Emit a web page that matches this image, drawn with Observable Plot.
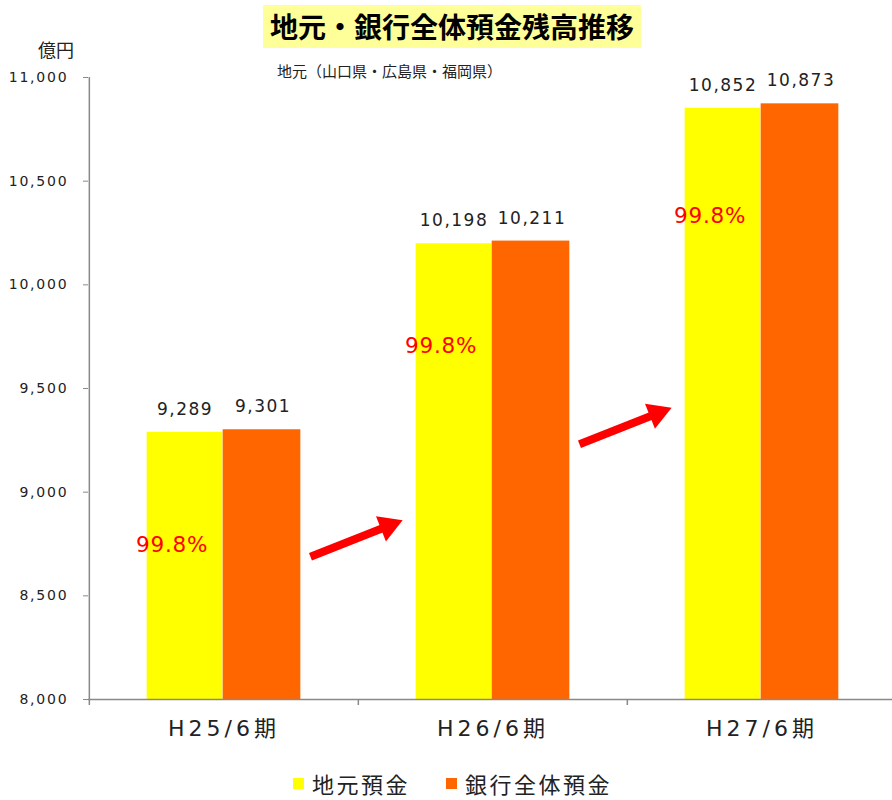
<!DOCTYPE html>
<html>
<head>
<meta charset="utf-8">
<script src="https://cdn.jsdelivr.net/npm/d3@7"></script>
<script src="https://cdn.jsdelivr.net/npm/@observablehq/plot@0.6"></script>
<style>
  body { margin: 0; background: #fff; }
  #wrap { position: relative; width: 892px; height: 800px; font-family: "Noto Sans CJK JP", sans-serif; background: #fff; }
  #chart { position: absolute; left: 0; top: 0; }
  .ovl { position: absolute; z-index: 2; white-space: nowrap; }
  #title { left: 263px; top: 5px; width: 378px; height: 43px; line-height: 43px; background: #ffff99; text-align: center; font-weight: bold; font-size: 28px; color: #000; }
  #subtitle { left: 277px; top: 63px; font-size: 15px; line-height: 16px; color: #222; }
  #unit { left: 38px; top: 39px; font-size: 18px; line-height: 20px; color: #222; }
  .lg-sw { position: absolute; width: 11px; height: 11px; top: 778px; z-index: 2; }
  .lg-tx { position: absolute; top: 772px; font-size: 22px; line-height: 22px; letter-spacing: 2.5px; color: #222; z-index: 2; white-space: nowrap; }
  g[aria-label="y-axis tick label"] text { letter-spacing: 1.8px; }
  g[aria-label="x-axis tick label"] text { letter-spacing: 4px; }
  g[font-size="17"] text { letter-spacing: 1.5px; }
  g[font-size="21.5"] text { letter-spacing: 0.8px; }
</style>
</head>
<body>
<div id="wrap">
  <div id="chart"></div>
  <div class="ovl" id="title"></div>
  <div class="ovl" id="subtitle"></div>
  <div class="ovl" id="unit"></div>
</div>
<script>
// ---- data ----
const titleText = "地元・銀行全体預金残高推移";
const subtitleText = "地元（山口県・広島県・福岡県）";
const unitText = "億円";
const categories = ["H25/6期", "H26/6期", "H27/6期"];
const seriesNames = ["地元預金", "銀行全体預金"];
const seriesColors = ["#ffff00", "#ff6600"];
const localDeposits = [9289, 10198, 10852];
const bankDeposits = [9301, 10211, 10873];
const ratioLabels = ["99.8%", "99.8%", "99.8%"];
const ratioLabelY = [8743, 9703, 10330];
const yTicks = [8000, 8500, 9000, 9500, 10000, 10500, 11000];
const arrowFromY = [8523, 9066];
const arrowToY = [9037, 9580];

// ---- layout ----
const W = 892, H = 765, mL = 88, mR = -4, mT = 77, mB = 66;
const step = (W - mL - mR) / categories.length;
const barW = 77;
const axisColor = "#898989";
const fmt = d3.format(",");

document.getElementById("title").textContent = titleText;
document.getElementById("subtitle").textContent = subtitleText;
document.getElementById("unit").textContent = unitText;

const rows = categories.map((c, i) => ({
  category: c, local: localDeposits[i], bank: bankDeposits[i],
  ratio: ratioLabels[i], ratioY: ratioLabelY[i]
}));
const arrows = arrowFromY.map((y, i) => ({
  from: categories[i], to: categories[i + 1], y1: y, y2: arrowToY[i]
}));

const chart = Plot.plot({
  width: W, height: H,
  marginLeft: mL, marginRight: mR, marginTop: mT, marginBottom: mB,
  style: { background: "transparent", fontFamily: "DejaVu Sans, Noto Sans CJK JP, sans-serif", overflow: "visible" },
  x: { type: "band", domain: categories, padding: 0 },
  y: { domain: [8000, 11000] },
  marks: [
    Plot.barY(rows, { x: "category", y1: 8000, y2: "local", fill: seriesColors[0], insetLeft: step / 2 - barW, insetRight: step / 2 + 1 }),
    Plot.barY(rows, { x: "category", y1: 8000, y2: "bank", fill: seriesColors[1], insetLeft: step / 2 - 1, insetRight: step / 2 - barW }),
    Plot.ruleY([8000], { stroke: axisColor, strokeWidth: 1.5 }),
    Plot.ruleX([categories[0]], { x: d => d, dx: -step / 2, y1: 8000, y2: 11000, stroke: axisColor, strokeWidth: 1.5 }),
    Plot.ruleX(categories, { x: d => d, dx: -step / 2, y1: 8000, y2: 8000, insetBottom: -6, stroke: axisColor, strokeWidth: 1.5 }),
    Plot.axisY(yTicks, { tickSize: 5, tickPadding: 15, tickFormat: fmt, fontSize: 14, stroke: axisColor, fill: "#222", label: null }),
    Plot.axisX({ tickSize: 0, tickPadding: 21, fontSize: 22, fill: "#222", label: null }),
    Plot.text(rows, { x: "category", y: "local", text: d => fmt(d.local), dx: -39, dy: -23, fontSize: 17, fill: "#222" }),
    Plot.text(rows, { x: "category", y: "bank", text: d => fmt(d.bank), dx: 39, dy: -23, fontSize: 17, fill: "#222" }),
    Plot.text(rows, { x: "category", y: "ratioY", text: "ratio", dx: -88, textAnchor: "start", fontSize: 21.5, fill: "#ff0000" }),
    // arrow shafts
    Plot.arrow(arrows, { x1: "from", y1: "y1", x2: "to", y2: "y2", stroke: "#ff0000", strokeWidth: 8, headLength: 0, insetStart: 93, insetEnd: 110, strokeLinecap: "butt" }),
    // filled arrow heads
    Plot.dot(arrows, { x: "to", y: "y2", dx: -104.8, dy: 41.5, symbol: "triangle", r: 10, rotate: 68.4, fill: "#ff0000", stroke: "none" })
  ]
});
document.getElementById("chart").appendChild(chart);

// ---- legend (HTML, below the plot) ----
const wrap = document.getElementById("wrap");
const legendX = [293, 446];
seriesNames.forEach((name, i) => {
  const sw = document.createElement("div");
  sw.className = "lg-sw";
  sw.style.left = legendX[i] + "px";
  sw.style.background = seriesColors[i];
  wrap.appendChild(sw);
  const tx = document.createElement("div");
  tx.className = "lg-tx";
  tx.style.left = (legendX[i] + 19) + "px";
  tx.textContent = name;
  wrap.appendChild(tx);
});
</script>
</body>
</html>
